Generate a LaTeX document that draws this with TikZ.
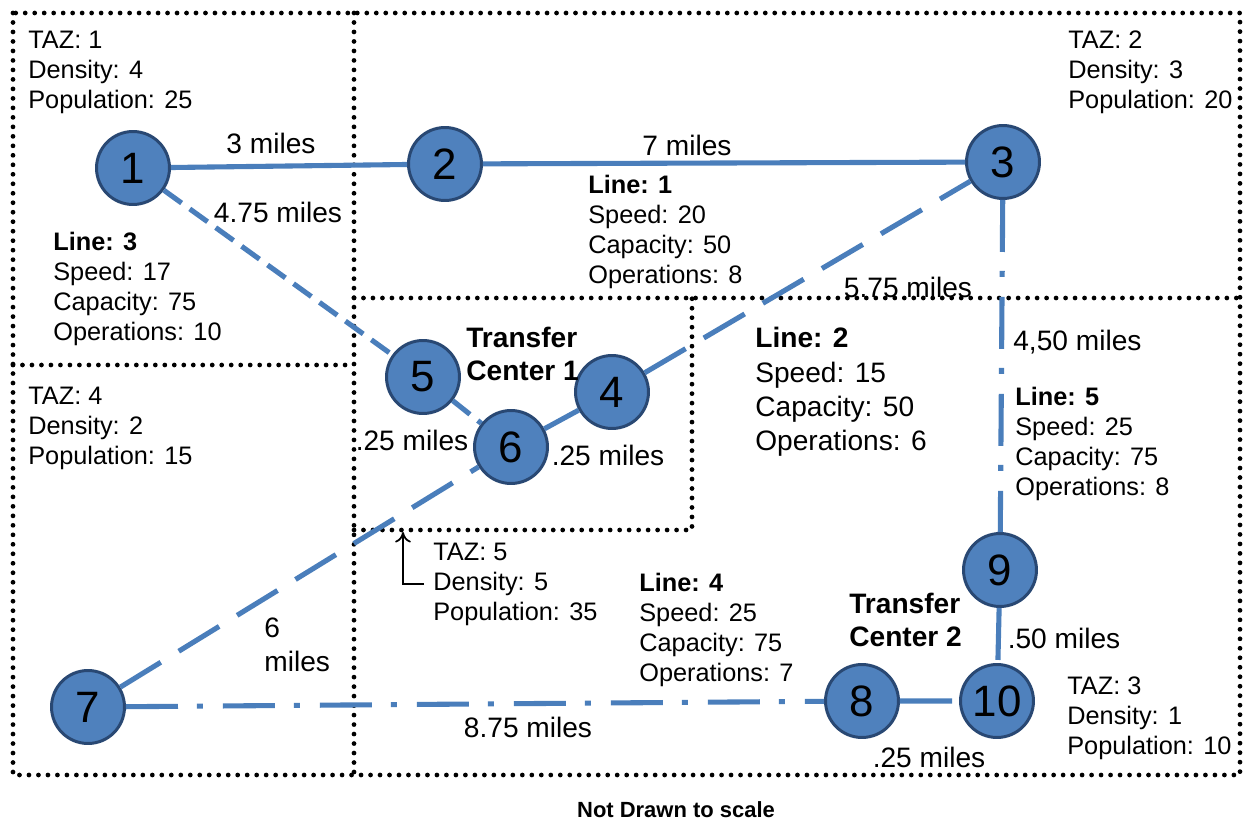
\documentclass[tikz,border=0pt]{standalone}
\usepackage{fontspec}
\setmainfont{Liberation Sans}
\usepackage{tikz}
\usetikzlibrary{arrows.meta}
\definecolor{stopfill}{RGB}{79,129,189}
\definecolor{stopedge}{RGB}{41,72,115}
\definecolor{routeblue}{RGB}{74,126,187}

\tikzset{
    stop/.style={circle, draw=stopedge, fill=stopfill, line width=1.7pt,
        minimum size=1.46cm, inner sep=0pt, font=\fontsize{25}{30}\selectfont},
    info/.style={anchor=west, align=left, inner sep=0pt,
        font=\fontsize{14.4}{17.1}\selectfont},
    infobig/.style={info, font=\fontsize{16}{19.6}\selectfont},
    center/.style={info, font=\fontsize{16}{18.6}\selectfont\bfseries},
    miles/.style={inner sep=0pt, font=\fontsize{16}{19.5}\selectfont},
    zone/.style={line width=2.7pt, line cap=round, dash pattern=on 0pt off 5.4pt},
    route/.style={draw=routeblue, line width=2.9pt},
    routedash/.style={route, dash pattern=on 27pt off 12pt},
    routeshort/.style={route, dash pattern=on 12.5pt off 5.7pt},
    routedot/.style={route, dash pattern=on 29.6pt off 10.8pt on 3.4pt off 11.4pt}
}

\begin{document}
\begin{tikzpicture}[x=0.02cm, y=-0.02cm]
    \useasboundingbox (0,0) rectangle (1248,824);

    % TAZ borders
    \draw[zone] (13,13) rectangle (1240,775);
    \draw[zone] (354,13) -- (354,775);
    \draw[zone] (13,365) -- (354,365);
    \draw[zone] (354,298) -- (1240,298);
    \draw[zone] (354,530) -- (692,530) -- (692,298);

    % Stops
    \foreach \n/\px/\py in {1/133/168, 2/445/164, 3/1003/162, 4/612/392, 5/423/377,
                            6/511/447, 7/88/707, 8/862/701, 9/1000/570, 10/997/701}
        \node[stop] (s\n) at (\px,\py) {\n};

    % Lines
    \draw[route] (s1) -- (s2) -- (s3);
    \draw[routedash] (s7) -- (s6) -- (s4) -- (s3);
    \draw[routeshort] (s1) -- (s5) -- (s6);
    \draw[routedot] (s7) -- (s8) -- (s10);
    \draw[routedot] (s3) -- (s9) -- (s10);

    % Distances
    \node[miles] (d12) at (271,143) {3 miles};
    \node[miles] (d23) at (687,145) {7 miles};
    \node[miles] (d15) at (278,212) {4.75 miles};
    \node[miles] (d34) at (908,287) {5.75 miles};
    \node[miles, anchor=west] (d39) at (1013,342) {4,50 miles};
    \node[miles] (d56) at (412,440) {.25 miles};
    \node[miles] (d46) at (608,455) {.25 miles};
    \node[miles, anchor=west, align=left] (d67) at (264,645) {6\\miles};
    \node[miles] (d78) at (528,727) {8.75 miles};
    \node[miles] (d910) at (1064,638) {.50 miles};
    \node[miles] (d810) at (929,757) {.25 miles};

    % Zones
    \node[info] (taz1) at (28,72) {TAZ: 1\\Density: 4\\Population: 25};
    \node[info] (taz2) at (1068,72) {TAZ: 2\\Density: 3\\Population: 20};
    \node[info] (taz4) at (28,428) {TAZ: 4\\Density: 2\\Population: 15};
    \node[info] (taz5) at (433,584) {TAZ: 5\\Density: 5\\Population: 35};
    \node[info] (taz3) at (1067,718) {TAZ: 3\\Density: 1\\Population: 10};
    \coordinate (tcbox) at (403,532);
    \draw[line width=1pt, -{To[length=6pt, width=9pt]}, shorten <=5pt] (taz5.west) -| (tcbox);

    % Line data
    \node[info] (line1) at (588,232) {\textbf{Line: 1}\\Speed: 20\\Capacity: 50\\Operations: 8};
    \node[info] (line3) at (53,289) {\textbf{Line: 3}\\Speed: 17\\Capacity: 75\\Operations: 10};
    \node[infobig] (line2) at (755,392) {\textbf{Line: 2}\\Speed: 15\\Capacity: 50\\Operations: 6};
    \node[info] (line4) at (639,630) {\textbf{Line: 4}\\Speed: 25\\Capacity: 75\\Operations: 7};
    \node[info] (line5) at (1015,444) {\textbf{Line: 5}\\Speed: 25\\Capacity: 75\\Operations: 8};

    % Transfer centers
    \node[center] (tc1) at (466,354) {Transfer\\Center 1};
    \node[center] (tc2) at (849,620) {Transfer\\Center 2};

    \node[inner sep=0pt, font=\fontsize{12.5}{15}\selectfont\bfseries] (note) at (676,810) {Not Drawn to scale};
\end{tikzpicture}
\end{document}
